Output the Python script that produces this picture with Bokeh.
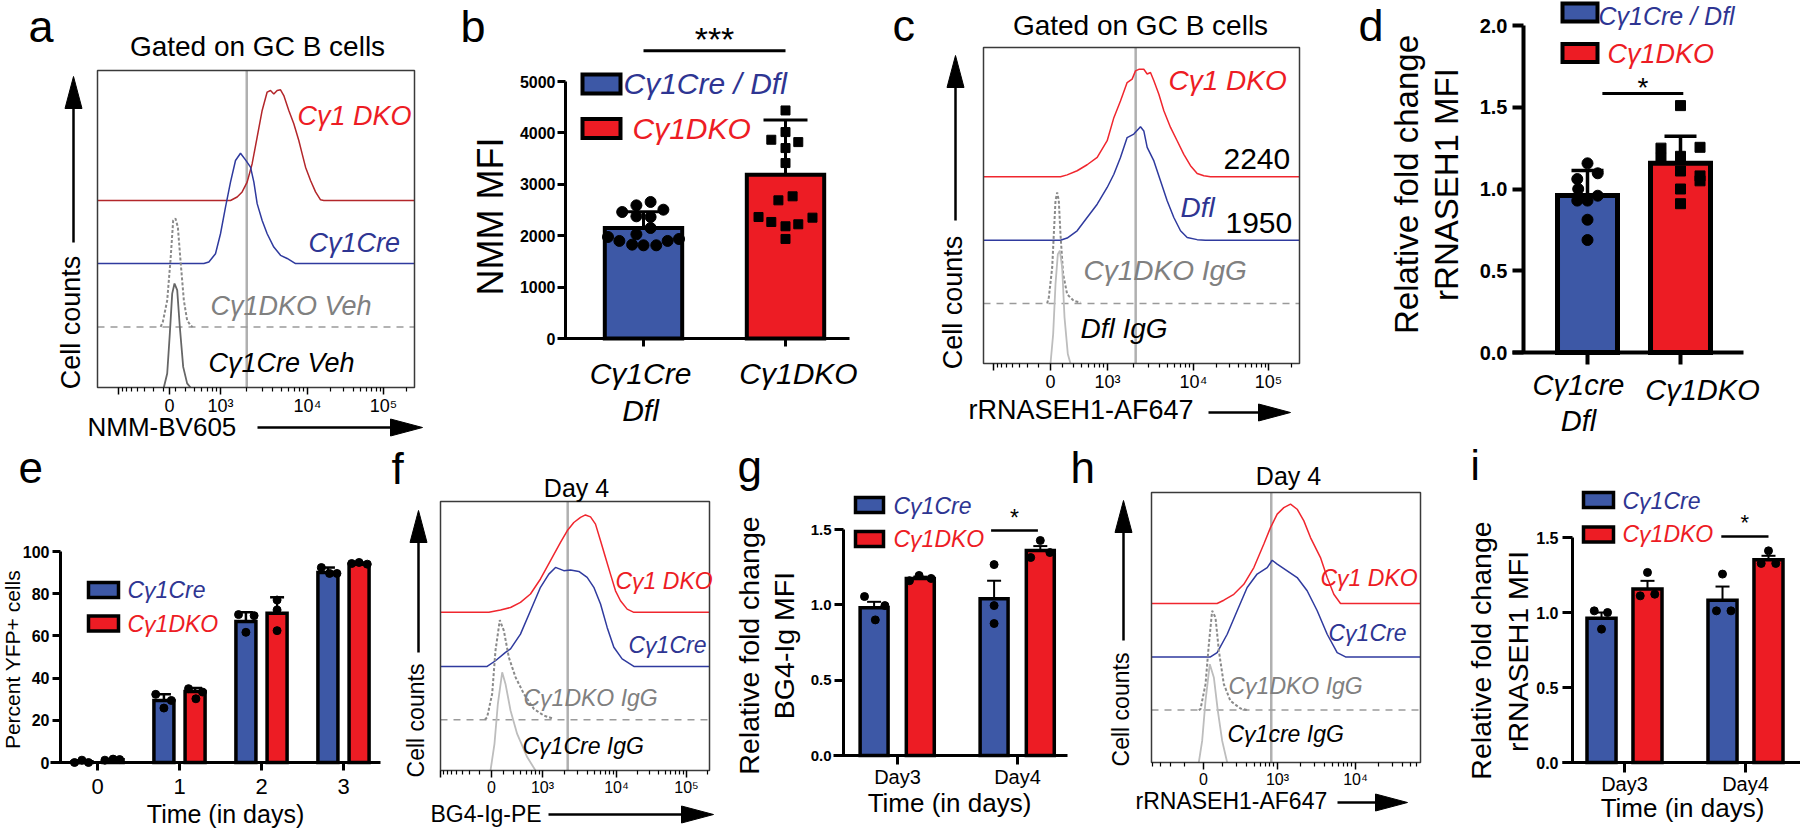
import math
from bokeh.plotting import figure
from bokeh.models import (Range1d, LinearAxis, FixedTicker, Label, Whisker, TeeHead,
                          ColumnDataSource, NumeralTickFormatter)
from bokeh.layouts import row, column
from bokeh.embed import file_html
from bokeh.resources import INLINE

FONT = "Liberation Sans"
BAR_BLUE = "#3d58a6"
BAR_RED = "#ed1c24"
TXT_BLUE = "#2e3592"
TXT_RED = "#ed1c24"
H_RED = "#f0262e"
H_RED_DARK = "#b3262a"
H_BLUE = "#2f3a9e"
GRAY = "#808080"
LGRAY = "#bdbdbd"

# ----------------------------- DATA -----------------------------
# (a) histograms, x in display units (log decades), y in % of frame height
a_dko_x = [3.122, 3.203, 3.264, 3.325, 3.386, 3.447, 3.508, 3.569, 3.610, 3.650, 3.691,
           3.732, 3.772, 3.833, 3.894, 3.955, 3.996, 4.037, 4.098, 4.159, 4.220, 4.260]
a_dko_y = [59.0, 60.1, 61.7, 64.8, 70.6, 79.0, 87.4, 93.2, 93.7, 92.6, 93.7,
           93.9, 92.1, 87.4, 83.2, 77.9, 73.7, 69.5, 65.3, 61.7, 59.2, 59.0]
a_cre_x = [2.797, 2.858, 2.939, 3.000, 3.061, 3.122, 3.183, 3.244, 3.305, 3.366, 3.407,
           3.447, 3.508, 3.569, 3.650, 3.732, 3.813, 3.915]
a_cre_y = [39.1, 39.6, 42.2, 48.5, 56.9, 64.8, 71.6, 73.9, 71.8, 69.5, 64.8,
           58.0, 52.7, 48.5, 44.3, 41.7, 40.7, 39.1]
a_dkoveh_x = [2.270, 2.297, 2.350, 2.390, 2.423, 2.451, 2.480, 2.512, 2.553, 2.593, 2.634, 2.660]
a_dkoveh_y = [19.1, 20.7, 27.5, 40.1, 52.7, 53.3, 50.6, 40.1, 27.5, 21.2, 19.6, 19.1]
a_creveh_x = [2.309, 2.350, 2.382, 2.411, 2.439, 2.472, 2.504, 2.545, 2.593, 2.634]
a_creveh_y = [0.0, 4.4, 17.0, 29.6, 32.8, 30.7, 19.1, 6.5, 1.3, 0.0]
a_bases = [59.0, 39.1, 19.1]
a_mfi_line = 3.32

# (c)
c_dko_x = [2.416, 2.499, 2.623, 2.747, 2.872, 2.996, 3.079, 3.161, 3.244, 3.306, 3.348, 3.389,
           3.451, 3.493, 3.534, 3.576, 3.638, 3.700, 3.783, 3.865, 3.948, 4.031, 4.114, 4.197, 4.280]
c_dko_y = [59.1, 59.7, 61.0, 62.9, 65.2, 70.5, 77.8, 83.1, 88.9, 90.0, 92.6, 93.1,
           93.1, 91.6, 92.1, 89.5, 85.2, 80.0, 74.7, 70.5, 66.2, 62.6, 60.1, 59.4, 59.1]
c_dfl_x = [2.416, 2.499, 2.623, 2.747, 2.872, 2.996, 3.079, 3.161, 3.244, 3.327, 3.410,
           3.451, 3.493, 3.576, 3.658, 3.741, 3.824, 3.907, 3.990, 4.114, 4.217]
c_dfl_y = [39.0, 39.7, 42.0, 46.2, 50.4, 55.7, 59.9, 65.2, 71.5, 72.6, 74.9,
           73.6, 68.4, 64.1, 57.8, 51.5, 46.2, 42.0, 39.9, 39.2, 39.0]
c_dkoigg_x = [2.250, 2.271, 2.313, 2.333, 2.354, 2.375, 2.395, 2.416, 2.449, 2.499, 2.582, 2.665]
c_dkoigg_y = [19.0, 20.9, 30.4, 40.9, 51.5, 54.1, 51.5, 40.9, 28.3, 21.9, 19.8, 19.3]
c_dfligg_x = [2.292, 2.325, 2.354, 2.383, 2.408, 2.437, 2.466, 2.507, 2.540]
c_dfligg_y = [0.0, 9.3, 25.1, 34.6, 35.7, 30.4, 14.6, 3.0, 0.0]
c_bases = [59.1, 39.0, 19.0]
c_mfi_line = 3.35
c_mfi_values = ["2240", "1950"]

# (f)
f_dko_x = [2.255, 2.417, 2.556, 2.694, 2.833, 2.972, 3.111, 3.250, 3.343, 3.435, 3.528,
           3.597, 3.667, 3.736, 3.806, 3.875, 3.944, 4.014, 4.083, 4.176, 4.269]
f_dko_y = [58.8, 59.7, 60.6, 62.5, 65.6, 71.2, 78.0, 84.8, 89.1, 92.2, 94.1,
           95.0, 94.3, 91.6, 85.4, 79.2, 73.0, 66.8, 63.1, 60.0, 58.8]
f_cre_x = [2.231, 2.347, 2.486, 2.556, 2.694, 2.833, 2.972, 3.088, 3.181, 3.296,
           3.389, 3.505, 3.620, 3.713, 3.806, 3.898, 3.991, 4.106, 4.269]
f_cre_y = [38.7, 40.8, 43.9, 45.2, 50.7, 59.4, 68.1, 73.0, 75.5, 74.3,
           74.5, 74.0, 71.8, 68.1, 61.9, 53.2, 45.8, 41.5, 38.7]
f_dkoigg_x = [2.200, 2.231, 2.301, 2.347, 2.407, 2.463, 2.532, 2.625, 2.741, 2.880, 3.019, 3.157]
f_dkoigg_y = [18.9, 19.8, 28.5, 44.6, 55.9, 52.0, 42.1, 34.7, 28.5, 22.9, 20.4, 19.2]
f_creigg_x = [2.278, 2.333, 2.380, 2.440, 2.486, 2.556, 2.648, 2.787, 2.903]
f_creigg_y = [0.0, 9.9, 24.8, 36.5, 32.2, 22.3, 13.6, 5.0, 0.0]
f_bases = [58.8, 38.7, 18.9]
f_mfi_line = 3.35

# (h)
h_dko_x = [2.226, 2.312, 2.440, 2.568, 2.697, 2.825, 2.910, 2.996, 3.081, 3.167,
           3.252, 3.338, 3.423, 3.551, 3.637, 3.722, 3.808]
h_dko_y = [58.9, 60.1, 62.3, 66.0, 72.2, 80.9, 87.0, 92.0, 94.4, 95.7,
           93.8, 89.5, 83.3, 75.9, 68.5, 62.3, 58.9]
h_cre_x = [2.141, 2.226, 2.355, 2.483, 2.611, 2.739, 2.868, 2.932, 2.996, 3.124,
           3.252, 3.380, 3.509, 3.637, 3.765, 3.872]
h_cre_y = [39.1, 40.7, 47.5, 56.2, 64.8, 69.8, 72.2, 74.9, 73.5, 71.0,
           68.5, 63.6, 56.2, 47.5, 40.7, 39.1]
h_dkoigg_x = [1.990, 2.013, 2.077, 2.120, 2.162, 2.205, 2.248, 2.312, 2.397, 2.526, 2.611]
h_dkoigg_y = [19.4, 19.8, 29.0, 43.8, 56.2, 53.7, 41.4, 29.0, 22.8, 20.0, 19.4]
h_creigg_x = [1.991, 2.034, 2.077, 2.132, 2.184, 2.235, 2.291, 2.355]
h_creigg_y = [0.0, 8.0, 22.8, 36.4, 31.5, 19.1, 8.0, 0.0]
h_bases = [58.9, 39.1, 19.4]
h_mfi_line = 2.92

# (b) NMM MFI
b_groups = ["Cγ1Cre", "Cγ1DKO"]
b_means = [2150, 3185]
b_sd = [315, 1068]
b_cre_jit = [-0.05, 0.05, -0.15, 0.14, -0.05, 0.05, 0.05, -0.05, -0.25, 0.25, -0.17, 0.17, -0.08, 0.0, 0.09]
b_cre_vals = [2590, 2656, 2461, 2506, 2377, 2364, 2150, 2027, 1975, 1936, 1898, 1898, 1826, 1813, 1813]
b_dko_jit = [0, 0, -0.1, 0.09, 0, 0, -0.05, 0.05, -0.19, -0.1, 0.19, 0.09, 0, 0]
b_dko_vals = [4437, 4016, 3867, 3821, 3705, 3413, 2688, 2766, 2364, 2267, 2351, 2222, 2183, 1937]
b_sig = (0.0, 1.0, 5600, "***")

# (d) relative rRNASEH1 MFI
d_groups = ["Cγ1cre", "Cγ1DKO"]
d_means = [0.96, 1.157]
d_sd = [0.153, 0.165]
d_cre_jit = [0, 0.11, -0.11, -0.1, 0.11, -0.11, 0, 0, 0]
d_cre_vals = [1.157, 1.096, 1.061, 1.0, 0.959, 0.929, 0.929, 0.812, 0.688]
d_dko_jit = [0, -0.21, -0.21, 0.21, 0, 0, 0.21, 0.21, 0, 0]
d_dko_vals = [1.51, 1.25, 1.19, 1.255, 1.2, 1.11, 1.08, 1.05, 1.0, 0.91]
d_sig = (0.16, 1.03, 1.584, "*")

# (e) percent YFP+
e_days = [0, 1, 2, 3]
e_cre_mean = [0.4, 29.4, 66.8, 90.1]
e_cre_sd = [0.6, 2.9, 4.4, 2.3]
e_dko_mean = [1.3, 33.7, 70.7, 94.0]
e_dko_sd = [0.3, 1.6, 7.6, 0.8]
e_cre_pts = [[0.0, 1.1, 0.0], [32.3, 25.8, 29.4], [70.1, 61.7, 69.6], [92.4, 89.6, 89.6]]
e_dko_pts = [[1.1, 1.6, 1.4], [35.0, 30.2, 33.4], [77.0, 72.3, 62.5], [94.3, 94.8, 94.0]]
e_cre_jit = [[-0.09, 0, 0.08], [-0.1, 0, 0.09], [-0.09, 0, 0.1], [-0.08, 0.02, 0.11]]
e_dko_jit = [[-0.1, 0, 0.08], [-0.08, 0.01, 0.09], [0, 0, 0], [-0.09, 0, 0.1]]

# (g) BG4-Ig
day_labels = ["Day3", "Day4"]
g_cre_mean = [0.98, 1.04]
g_cre_sem = [0.04, 0.12]
g_dko_mean = [1.175, 1.36]
g_dko_sem = [0.012, 0.03]
g_cre_pts = [[1.055, 0.90, 0.995], [1.267, 0.995, 0.876]]
g_cre_jit = [[-0.08, 0.01, 0.09], [0, 0, 0]]
g_dko_pts = [[1.16, 1.195, 1.175], [1.427, 1.314, 1.347]]
g_dko_jit = [[-0.09, -0.01, 0.09], [0, -0.08, 0.08]]
g_sig = (0.78, 1.17, 1.493, "*")

# (i) rRNASEH1
i_cre_mean = [0.962, 1.082]
i_cre_sem = [0.038, 0.091]
i_dko_mean = [1.156, 1.351]
i_dko_sem = [0.055, 0.027]
i_cre_pts = [[1.011, 1.0, 0.889], [1.256, 1.011, 1.011]]
i_cre_jit = [[-0.06, 0.05, 0], [0, -0.05, 0.07]]
i_dko_pts = [[1.267, 1.111, 1.122], [1.411, 1.327, 1.327]]
i_dko_jit = [[0, -0.06, 0.06], [0, -0.06, 0.06]]
i_sig = (0.8, 1.19, 1.507, "*")


# ----------------------------- HELPERS -----------------------------
class Panel:
    def __init__(self, box, xcal, ycal):
        x0, x1, y0, y1 = box
        (pa, va), (pb, vb) = xcal
        (qa, wa), (qb, wb) = ycal
        kx = (vb - va) / (pb - pa)
        ky = (wb - wa) / (qb - qa)
        self.X = lambda px: va + (px - pa) * kx
        self.Y = lambda py: wa + (py - qa) * ky
        self.sx = abs(kx)
        self.sy = abs(ky)
        p = figure(width=x1 - x0, height=y1 - y0,
                   x_range=Range1d(self.X(x0), self.X(x1)),
                   y_range=Range1d(self.Y(y1), self.Y(y0)),
                   x_axis_type=None, y_axis_type=None,
                   toolbar_location=None, output_backend="svg",
                   min_border=0, outline_line_color=None)
        p.title.visible = False
        p.background_fill_color = "white"
        p.border_fill_color = "white"
        self.p = p

    def text(self, px, py, s, size, color="black", align="left", angle=0.0, style="normal"):
        self.p.add_layout(Label(x=self.X(px), y=self.Y(py), text=s, text_font=FONT,
                                text_font_size=f"{size}px", text_color=color,
                                text_align=align, text_baseline="middle",
                                angle=angle, text_font_style=style))

    def base_text(self, px, base_py, s, size, align="left", style="normal"):
        # place a text by its alphabetic baseline (converted to a middle anchor)
        self.text(px, base_py - 0.3465 * size, s, size, align=align, style=style)

    def arrow(self, x0, y0, x1, y1, lw=2.5, head_len=32, head_w=17):
        dx, dy = x1 - x0, y1 - y0
        L = math.hypot(dx, dy)
        ux, uy = dx / L, dy / L
        bx, by = x1 - ux * head_len, y1 - uy * head_len
        nx, ny = -uy, ux
        self.p.line([self.X(x0), self.X(bx + ux * 3)], [self.Y(y0), self.Y(by + uy * 3)],
                    line_color="black", line_width=lw)
        xs = [x1, bx + nx * head_w / 2, bx - nx * head_w / 2]
        ys = [y1, by + ny * head_w / 2, by - ny * head_w / 2]
        self.p.patch([self.X(v) for v in xs], [self.Y(v) for v in ys],
                     fill_color="black", line_color="black", line_width=1)

    def swatch(self, cx, cy, w, h, color, lw):
        self.p.rect(x=[self.X(cx)], y=[self.Y(cy)], width=w * self.sx, height=h * self.sy,
                    fill_color=color, line_color="black", line_width=lw, line_join="miter")


def flow_axis(P, lo, hi, p0, p3, p4, p5, size):
    d1 = p4 - p3
    majors = {}
    neg = 2 * p0 - p3
    if neg > lo:
        majors[round(neg, 4)] = ""
    majors[round(p0, 4)] = "0"
    majors[round(p3, 4)] = "10³"
    majors[round(p4, 4)] = "10⁴"
    if p5 is not None:
        majors[round(p5, 4)] = "10⁵"
    minors = []
    for k in range(2, 10):
        m = p3 + math.log10(k / 10) * d1
        if m > p0 + 0.04:
            minors.append(m)
            mm = 2 * p0 - m
            if mm > lo:
                minors.append(mm)
        minors.append(p3 + math.log10(k) * d1)
    if p5 is not None:
        d2 = p5 - p4
        for k in range(2, 10):
            minors.append(p4 + math.log10(k) * d2)
            m = p5 + math.log10(k) * d2
            if m < hi:
                minors.append(m)
    else:
        for k in range(2, 10):
            m = p4 + math.log10(k) * d1
            if m < hi:
                minors.append(m)
    minors = [round(m, 4) for m in minors if lo < m < hi]
    ax = LinearAxis(fixed_location=0, bounds=(lo, hi),
                    ticker=FixedTicker(ticks=sorted(majors.keys()), minor_ticks=minors),
                    major_label_overrides=majors, axis_line_color=None,
                    major_tick_out=7, major_tick_in=0, minor_tick_out=4, minor_tick_in=0,
                    major_tick_line_width=1.5, minor_tick_line_width=1.2,
                    major_tick_line_color="black", minor_tick_line_color="black",
                    major_label_standoff=1, major_label_text_font=FONT,
                    major_label_text_font_size=f"{size}px", major_label_text_color="black")
    P.p.add_layout(ax, "below")
    P.p.quad(left=[lo], right=[hi], bottom=[0], top=[100], fill_color=None,
             line_color="#3a3a3a", line_width=1.5)


def curve(P, xs, ys, base, lo, hi, color, lw=1.5):
    P.p.line([lo] + list(xs) + [hi], [base] + list(ys) + [base], line_color=color, line_width=lw)


def mfi_line(P, x):
    P.p.segment(x0=[x], y0=[0], x1=[x], y1=[100], line_color="#b0b0b0", line_width=2.5)


def bar_axes(P, yaxis_px, ybounds, yticks, ysize, y_out, y_stand, xl_px, xr_px, xticks,
             xlabels, xsize, xstyle, x_out, x_stand, lw, yfmt=None):
    yax = LinearAxis(fixed_location=P.X(yaxis_px), bounds=ybounds,
                     ticker=FixedTicker(ticks=yticks), axis_line_width=lw,
                     axis_line_color="black", major_tick_line_width=lw,
                     major_tick_out=y_out, major_tick_in=0, minor_tick_line_color=None,
                     major_label_text_font=FONT, major_label_text_font_size=f"{ysize}px",
                     major_label_text_font_style="bold", major_label_text_color="black",
                     major_label_standoff=y_stand)
    if yfmt:
        yax.formatter = NumeralTickFormatter(format=yfmt)
    P.p.add_layout(yax, "left")
    xax = LinearAxis(fixed_location=0, bounds=(P.X(xl_px), P.X(xr_px)),
                     ticker=FixedTicker(ticks=xticks), axis_line_width=lw,
                     axis_line_color="black", major_tick_line_width=lw,
                     major_tick_out=x_out, major_tick_in=0, minor_tick_line_color=None,
                     major_label_text_font=FONT, major_label_text_font_size=f"{xsize}px",
                     major_label_text_font_style=xstyle, major_label_text_color="black",
                     major_label_standoff=x_stand)
    if xlabels is not None:
        xax.major_label_overrides = dict(zip(xticks, xlabels))
    P.p.add_layout(xax, "below")
    return xax


def errbars(P, xs, means, errs, lw, head):
    src = ColumnDataSource(dict(x=list(xs), lo=[m - e for m, e in zip(means, errs)],
                                hi=[m + e for m, e in zip(means, errs)]))
    w = Whisker(source=src, base="x", upper="hi", lower="lo", line_width=lw, line_color="black",
                upper_head=TeeHead(size=head, line_width=lw, line_color="black"),
                lower_head=TeeHead(size=head, line_width=lw, line_color="black"))
    P.p.add_layout(w)


def sig(P, s, lw, size, gap):
    # gap: distance (px) from the bar to the centre of the star glyphs
    x0, x1, y, txt = s
    P.p.segment(x0=[x0], y0=[y], x1=[x1], y1=[y], line_color="black", line_width=lw)
    P.p.add_layout(Label(x=(x0 + x1) / 2, y=y, y_offset=gap - 0.23 * size, text=txt,
                         text_font=FONT, text_font_size=f"{size}px", text_align="center",
                         text_baseline="middle", text_color="black"))


HALF_PI = math.pi / 2
SPLIT = 441   # boundary between the two rows (page pixels)

# ----------------------------- PANEL a -----------------------------
A = Panel((0, 440, 0, SPLIT), ((220, 3.0), (302, 4.0)), ((387, 0), (70, 100)))
lo, hi = A.X(97), A.X(414)
mfi_line(A, a_mfi_line)
curve(A, a_dko_x, a_dko_y, a_bases[0], lo, hi, H_RED_DARK)
curve(A, a_cre_x, a_cre_y, a_bases[1], lo, hi, H_BLUE)
A.p.line([lo, hi], [a_bases[2], a_bases[2]], line_color="#9a9a9a", line_width=1.5, line_dash="7 6")
A.p.line(a_dkoveh_x, a_dkoveh_y, line_color="#8a8a8a", line_width=2, line_dash="3 2")
A.p.line(a_creveh_x, a_creveh_y, line_color="#666666", line_width=1.8)
flow_axis(A, lo, hi, A.X(169), 3.0, A.X(307), A.X(383), 18)
A.base_text(28, 42, "a", 45)
A.text(257, 46, "Gated on GC B cells", 28, align="center")
A.text(297, 115, "Cγ1 DKO", 27, TXT_RED, style="italic")
A.text(308, 242, "Cγ1Cre", 27, TXT_BLUE, style="italic")
A.text(210, 305, "Cγ1DKO Veh", 27, GRAY, style="italic")
A.text(208, 362, "Cγ1Cre Veh", 27, "black", style="italic")
A.arrow(73, 242, 73, 76)
A.text(70, 322, "Cell counts", 27, align="center", angle=HALF_PI)
A.text(87, 426, "NMM-BV605", 26)
A.arrow(257, 427, 422, 427)

# ----------------------------- PANEL b -----------------------------
B = Panel((440, 880, 0, SPLIT), ((643, 0), (785, 1)), ((338, 0), (81, 5000)))
B.p.vbar(x=[0, 1], top=b_means, width=0.545, fill_color=[BAR_BLUE, BAR_RED],
         line_color="black", line_width=4, line_join="miter")
errbars(B, [0, 1], b_means, b_sd, 3, 44)
B.p.scatter([0 + j for j in b_cre_jit], b_cre_vals, marker="circle", size=11, color="black")
B.p.scatter([1 + j for j in b_dko_jit], b_dko_vals, marker="square", size=9, color="black")
bar_axes(B, 565, (0, 5000), [0, 1000, 2000, 3000, 4000, 5000], 16, 8, 2,
         558, 849, [0, 1], ["", ""], 30, "italic", 8, 10, 3)
B.text(640, 373, b_groups[0], 30, style="italic", align="center")
B.text(798, 373, b_groups[1], 30, style="italic", align="center")
B.text(640, 410, "Dfl", 30, style="italic", align="center")
sig(B, b_sig, 3, 34, 19)
B.swatch(601, 83.5, 38, 19, BAR_BLUE, 4)
B.swatch(601, 128, 38, 19, BAR_RED, 4)
B.text(623, 83, "Cγ1Cre / Dfl", 30, TXT_BLUE, style="italic")
B.text(632, 128, "Cγ1DKO", 30, TXT_RED, style="italic")
B.text(490, 216, "NMM MFI", 36, align="center", angle=HALF_PI)
B.base_text(460, 42, "b", 45)

# ----------------------------- PANEL c -----------------------------
C = Panel((880, 1340, 0, SPLIT), ((1107, 3.0), (1187.5, 4.0)), ((363, 0), (47, 100)))
lo, hi = C.X(983), C.X(1299)
mfi_line(C, c_mfi_line)
curve(C, c_dko_x, c_dko_y, c_bases[0], lo, hi, H_RED)
curve(C, c_dfl_x, c_dfl_y, c_bases[1], lo, hi, H_BLUE)
C.p.line([lo, hi], [c_bases[2], c_bases[2]], line_color="#9a9a9a", line_width=1.5, line_dash="7 6")
C.p.line(c_dkoigg_x, c_dkoigg_y, line_color="#8a8a8a", line_width=2, line_dash="3 2")
C.p.line(c_dfligg_x, c_dfligg_y, line_color=LGRAY, line_width=1.8)
flow_axis(C, lo, hi, C.X(1050), 3.0, C.X(1193), C.X(1268), 18)
C.base_text(892, 41, "c", 45)
C.text(1140, 25, "Gated on GC B cells", 28, align="center")
C.text(1168, 80, "Cγ1 DKO", 28, TXT_RED, style="italic")
C.text(1223, 158, c_mfi_values[0], 30)
C.text(1180, 207, "Dfl", 28, TXT_BLUE, style="italic")
C.text(1225, 222, c_mfi_values[1], 30)
C.text(1083, 270, "Cγ1DKO IgG", 28, GRAY, style="italic")
C.text(1080, 328, "Dfl IgG", 28, "black", style="italic")
C.arrow(955, 220, 955, 55)
C.text(952, 302, "Cell counts", 27, align="center", angle=HALF_PI)
C.text(968, 409, "rRNASEH1-AF647", 27)
C.arrow(1208, 412, 1290, 412)

# ----------------------------- PANEL d -----------------------------
D = Panel((1340, 1800, 0, SPLIT), ((1587, 0), (1680, 1)), ((352, 0), (25, 2.0)))
D.p.vbar(x=[0, 1], top=d_means, width=0.645, fill_color=[BAR_BLUE, BAR_RED],
         line_color="black", line_width=5, line_join="miter")
errbars(D, [0, 1], d_means, d_sd, 3.5, 32)
D.p.scatter([0 + j for j in d_cre_jit], d_cre_vals, marker="circle", size=11, color="black")
D.p.scatter([1 + j for j in d_dko_jit], d_dko_vals, marker="square", size=10, color="black")
bar_axes(D, 1523, (0, 2.0), [0, 0.5, 1.0, 1.5, 2.0], 20, 11, 5,
         1512, 1743, [0, 1], ["", ""], 30, "italic", 12, 5, 4, yfmt="0.0")
D.text(1578, 384, d_groups[0], 29, style="italic", align="center")
D.text(1702, 389, d_groups[1], 29, style="italic", align="center")
D.text(1578, 420, "Dfl", 29, style="italic", align="center")
sig(D, d_sig, 3, 28, 12)
D.swatch(1579.5, 12, 35, 18, BAR_BLUE, 4)
D.swatch(1579.5, 52.5, 35, 18, BAR_RED, 4)
D.text(1598, 15, "Cγ1Cre / Dfl", 25, TXT_BLUE, style="italic")
D.text(1607, 53, "Cγ1DKO", 27, TXT_RED, style="italic")
D.text(1406, 184, "Relative fold change", 33, align="center", angle=HALF_PI)
D.text(1446, 184, "rRNASEH1 MFI", 33, align="center", angle=HALF_PI)
D.base_text(1358, 41, "d", 45)

# ----------------------------- PANEL e -----------------------------
E = Panel((0, 388, SPLIT, 830), ((97, 0), (179, 1)), ((762, 0), (551, 100)))
ex_cre = [d - 0.19 for d in e_days]
ex_dko = [d + 0.19 for d in e_days]
E.p.vbar(x=ex_cre, top=e_cre_mean, width=0.244, fill_color=BAR_BLUE, line_color="black",
         line_width=3.5, line_join="miter")
E.p.vbar(x=ex_dko, top=e_dko_mean, width=0.244, fill_color=BAR_RED, line_color="black",
         line_width=3.5, line_join="miter")
errbars(E, ex_cre, e_cre_mean, e_cre_sd, 2.5, 14)
errbars(E, ex_dko, e_dko_mean, e_dko_sd, 2.5, 14)
for k in range(4):
    E.p.scatter([ex_cre[k] + j for j in e_cre_jit[k]], e_cre_pts[k], marker="circle", size=8, color="black")
    E.p.scatter([ex_dko[k] + j for j in e_dko_jit[k]], e_dko_pts[k], marker="circle", size=8, color="black")
bar_axes(E, 60, (0, 100), [0, 20, 40, 60, 80, 100], 16, 8, 3,
         50, 380, e_days, None, 22, "normal", 8, 8, 3)
E.swatch(103, 589.5, 30, 15, BAR_BLUE, 3.5)
E.swatch(103, 623, 30, 15, BAR_RED, 3.5)
E.text(127, 589, "Cγ1Cre", 23, TXT_BLUE, style="italic")
E.text(127, 623, "Cγ1DKO", 23, TXT_RED, style="italic")
E.text(12, 659, "Percent YFP+ cells", 21, align="center", angle=HALF_PI)
E.base_text(225, 822, "Time (in days)", 25, align="center")
E.base_text(18, 482, "e", 44)

# ----------------------------- PANEL f -----------------------------
F = Panel((388, 722, SPLIT, 830), ((542, 3.0), (614, 4.0)), ((770, 0), (501, 100)))
lo, hi = F.X(440), F.X(709)
mfi_line(F, f_mfi_line)
curve(F, f_dko_x, f_dko_y, f_bases[0], lo, hi, H_RED)
curve(F, f_cre_x, f_cre_y, f_bases[1], lo, hi, H_BLUE)
F.p.line([lo, hi], [f_bases[2], f_bases[2]], line_color="#9a9a9a", line_width=1.5, line_dash="7 6")
F.p.line(f_dkoigg_x, f_dkoigg_y, line_color="#8a8a8a", line_width=2, line_dash="3 2")
F.p.line(f_creigg_x, f_creigg_y, line_color=LGRAY, line_width=1.8)
flow_axis(F, lo, hi, F.X(491), 3.0, F.X(616), F.X(686), 16)
F.base_text(391, 483, "f", 44)
F.text(576, 487, "Day 4", 25, align="center")
F.text(615, 580, "Cγ1 DKO", 23, TXT_RED, style="italic")
F.text(628, 644, "Cγ1Cre", 23, TXT_BLUE, style="italic")
F.text(523, 697, "Cγ1DKO IgG", 23, GRAY, style="italic")
F.text(522, 745, "Cγ1Cre IgG", 23, "black", style="italic")
F.arrow(418, 652, 418, 510)
F.text(415, 720, "Cell counts", 23, align="center", angle=HALF_PI)
F.text(430, 813, "BG4-Ig-PE", 23)
F.arrow(548, 814, 713, 814)

# ----------------------------- PANEL g -----------------------------
G = Panel((722, 1068, SPLIT, 830), ((897, 0), (1017, 1)), ((755, 0), (529, 1.5)))
gx = [0, 1]
gx_cre = [d - 0.195 for d in gx]
gx_dko = [d + 0.19 for d in gx]
G.p.vbar(x=gx_cre, top=g_cre_mean, width=0.233, fill_color=BAR_BLUE, line_color="black",
         line_width=3.5, line_join="miter")
G.p.vbar(x=gx_dko, top=g_dko_mean, width=0.233, fill_color=BAR_RED, line_color="black",
         line_width=3.5, line_join="miter")
errbars(G, gx_cre, g_cre_mean, g_cre_sem, 2, 14)
errbars(G, gx_dko, g_dko_mean, g_dko_sem, 2, 14)
for k in range(2):
    G.p.scatter([gx_cre[k] + j for j in g_cre_jit[k]], g_cre_pts[k], marker="circle", size=8, color="black")
    G.p.scatter([gx_dko[k] + j for j in g_dko_jit[k]], g_dko_pts[k], marker="circle", size=8, color="black")
bar_axes(G, 843, (0, 1.5), [0, 0.5, 1.0, 1.5], 15, 9, 3,
         833, 1067, gx, day_labels, 20, "normal", 9, 1, 3, yfmt="0.0")
sig(G, g_sig, 2.5, 23, 18)
G.swatch(869, 504.5, 28, 15, BAR_BLUE, 3.5)
G.swatch(869, 538.5, 28, 15, BAR_RED, 3.5)
G.text(893, 505, "Cγ1Cre", 23, TXT_BLUE, style="italic")
G.text(893, 538, "Cγ1DKO", 23, TXT_RED, style="italic")
G.text(748, 645, "Relative fold change", 28.5, align="center", angle=HALF_PI)
G.text(783, 645, "BG4-Ig MFI", 28.5, align="center", angle=HALF_PI)
G.base_text(949, 812, "Time (in days)", 26, align="center")
G.base_text(737, 481, "g", 44)

# ----------------------------- PANEL h -----------------------------
H = Panel((1068, 1440, SPLIT, 830), ((1277, 3.0), (1355, 4.0)), ((762, 0), (492, 100)))
lo, hi = H.X(1151), H.X(1420)
mfi_line(H, h_mfi_line)
curve(H, h_dko_x, h_dko_y, h_bases[0], lo, hi, H_RED)
curve(H, h_cre_x, h_cre_y, h_bases[1], lo, hi, H_BLUE)
H.p.line([lo, hi], [h_bases[2], h_bases[2]], line_color="#9a9a9a", line_width=1.5, line_dash="7 6")
H.p.line(h_dkoigg_x, h_dkoigg_y, line_color="#8a8a8a", line_width=2, line_dash="3 2")
H.p.line(h_creigg_x, h_creigg_y, line_color=LGRAY, line_width=1.8)
flow_axis(H, lo, hi, H.X(1203), 3.0, 4.0, None, 16)
H.base_text(1070, 482, "h", 44)
H.text(1288, 475, "Day 4", 25, align="center")
H.text(1320, 577, "Cγ1 DKO", 23, TXT_RED, style="italic")
H.text(1328, 632, "Cγ1Cre", 23, TXT_BLUE, style="italic")
H.text(1228, 685, "Cγ1DKO IgG", 23, GRAY, style="italic")
H.text(1227, 733, "Cγ1cre IgG", 23, "black", style="italic")
H.arrow(1123, 640, 1123, 500)
H.text(1120, 709, "Cell counts", 23, align="center", angle=HALF_PI)
H.text(1135, 800, "rRNASEH1-AF647", 23)
H.arrow(1337, 802, 1407, 802)

# ----------------------------- PANEL i -----------------------------
I = Panel((1440, 1800, SPLIT, 830), ((1624, 0), (1745, 1)), ((762, 0), (537, 1.5)))
ix_cre = [d - 0.19 for d in gx]
ix_dko = [d + 0.19 for d in gx]
I.p.vbar(x=ix_cre, top=i_cre_mean, width=0.24, fill_color=BAR_BLUE, line_color="black",
         line_width=3.5, line_join="miter")
I.p.vbar(x=ix_dko, top=i_dko_mean, width=0.24, fill_color=BAR_RED, line_color="black",
         line_width=3.5, line_join="miter")
errbars(I, ix_cre, i_cre_mean, i_cre_sem, 2, 14)
errbars(I, ix_dko, i_dko_mean, i_dko_sem, 2, 14)
for k in range(2):
    I.p.scatter([ix_cre[k] + j for j in i_cre_jit[k]], i_cre_pts[k], marker="circle", size=8, color="black")
    I.p.scatter([ix_dko[k] + j for j in i_dko_jit[k]], i_dko_pts[k], marker="circle", size=8, color="black")
bar_axes(I, 1572, (0, 1.5), [0, 0.5, 1.0, 1.5], 16, 10, 4,
         1562, 1800, gx, day_labels, 20, "normal", 10, 0, 3, yfmt="0.0")
sig(I, i_sig, 2.5, 22, 19)
I.swatch(1598, 499.5, 30, 15, BAR_BLUE, 3.5)
I.swatch(1598, 534, 30, 15, BAR_RED, 3.5)
I.text(1622, 500, "Cγ1Cre", 23, TXT_BLUE, style="italic")
I.text(1622, 533, "Cγ1DKO", 23, TXT_RED, style="italic")
I.text(1480, 650, "Relative fold change", 28.5, align="center", angle=HALF_PI)
I.text(1517, 651, "rRNASEH1 MFI", 28.5, align="center", angle=HALF_PI)
I.base_text(1682, 817, "Time (in days)", 26, align="center")
I.base_text(1470, 480, "i", 42)

layout = column(row(A.p, B.p, C.p, D.p), row(E.p, F.p, G.p, H.p, I.p))
layout.styles = {"position": "absolute", "left": "0px", "top": "0px"}
open("out.html", "w").write(file_html(layout, INLINE))
